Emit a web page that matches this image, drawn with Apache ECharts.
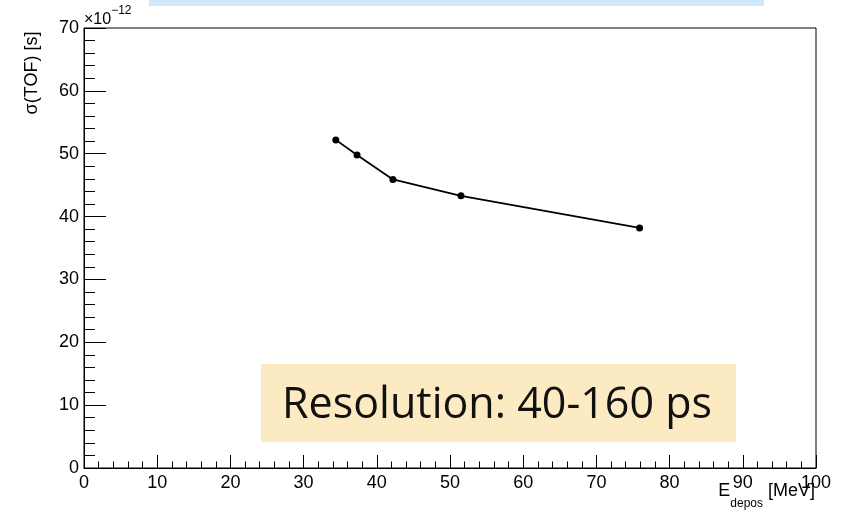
<!DOCTYPE html>
<html>
<head>
<meta charset="utf-8">
<script src="https://cdn.jsdelivr.net/npm/echarts@6/dist/echarts.min.js"></script>
<style>
html,body{margin:0;padding:0;background:#fff;}
#chart{width:845px;height:510px;}
</style>
</head>
<body>
<div id="chart"></div>
<script>
// Deposited energy [MeV]
var energyDepos = [34.4, 37.3, 42.2, 51.5, 75.9];
// sigma(TOF) in units of 1e-12 s
var sigmaTOF = [52.2, 49.8, 45.9, 43.3, 38.2];
var xTicks = [0, 10, 20, 30, 40, 50, 60, 70, 80, 90, 100];
var yTicks = [0, 10, 20, 30, 40, 50, 60, 70];
var noteText = 'Resolution: 40-160 ps';

var points = energyDepos.map(function (e, i) { return [e, sigmaTOF[i]]; });

var chart = echarts.init(document.getElementById('chart'), null, {renderer: 'canvas'});
var tickFont = {color: '#000', fontFamily: 'Liberation Sans, Arial, sans-serif', fontSize: 18};

chart.setOption({
  animation: false,
  backgroundColor: '#fff',
  grid: {left: 84, right: 29, top: 28, bottom: 42, show: true, borderColor: '#000', borderWidth: 1, backgroundColor: 'transparent'},
  xAxis: {
    type: 'value', min: xTicks[0], max: xTicks[xTicks.length - 1], interval: 10,
    axisLine: {show: true, onZero: false, lineStyle: {color: '#000', width: 1}},
    axisTick: {show: true, inside: true, length: 13, lineStyle: {color: '#000', width: 1}},
    minorTick: {show: true, splitNumber: 5, length: 6.5, lineStyle: {color: '#000', width: 1}},
    splitLine: {show: false},
    axisLabel: Object.assign({margin: 6}, tickFont)
  },
  yAxis: {
    type: 'value', min: yTicks[0], max: yTicks[yTicks.length - 1], interval: 10,
    axisLine: {show: true, onZero: false, lineStyle: {color: '#000', width: 1}},
    axisTick: {show: true, inside: true, length: 22, lineStyle: {color: '#000', width: 1}},
    minorTick: {show: true, splitNumber: 5, length: 11, lineStyle: {color: '#000', width: 1}},
    splitLine: {show: false},
    axisLabel: Object.assign({margin: 5}, tickFont)
  },
  series: [{
    type: 'line',
    data: points,
    symbol: 'circle',
    symbolSize: 7,
    itemStyle: {color: '#000'},
    lineStyle: {color: '#000', width: 1.8},
    z: 3
  }],
  graphic: [
    {type: 'rect', shape: {x: 149, y: 0, width: 615, height: 6}, style: {fill: '#CFE8FB'}, silent: true},
    {type: 'text', x: 32, y: 73, rotation: Math.PI / 2,
      style: {text: 'σ(TOF) [s]', fill: '#000', font: '18px "Liberation Sans", Arial, sans-serif', align: 'center', verticalAlign: 'middle'}},
    {type: 'text', x: 84, y: 29,
      style: {text: '{a|×10}{b|−12}', align: 'left', verticalAlign: 'bottom',
        rich: {
          a: {fontFamily: 'Liberation Sans', fontSize: 16, color: '#000', verticalAlign: 'bottom', lineHeight: 24, padding: [0, 0, 1, 0]},
          b: {fontFamily: 'Liberation Sans', fontSize: 12, color: '#000', verticalAlign: 'top', lineHeight: 24}
        }}},
    {type: 'text', x: 815, y: 482,
      style: {text: '{e|E}{s|depos}{u| [MeV]}', align: 'right', verticalAlign: 'top',
        rich: {
          e: {fontFamily: 'Liberation Sans', fontSize: 18, color: '#000', verticalAlign: 'top', lineHeight: 28},
          s: {fontFamily: 'Liberation Sans', fontSize: 12, color: '#000', verticalAlign: 'bottom', lineHeight: 28},
          u: {fontFamily: 'Liberation Sans', fontSize: 18, color: '#000', verticalAlign: 'top', lineHeight: 28}
        }}},
    {type: 'rect', shape: {x: 261, y: 364, width: 475, height: 78}, style: {fill: '#FCEAC2'}, z: 10},
    {type: 'text', x: 497, y: 406, z: 11,
      style: {text: noteText, fill: '#111', font: '43px "Open Sans", Lato, sans-serif', align: 'center', verticalAlign: 'middle'}}
  ]
});
</script>
</body>
</html>
